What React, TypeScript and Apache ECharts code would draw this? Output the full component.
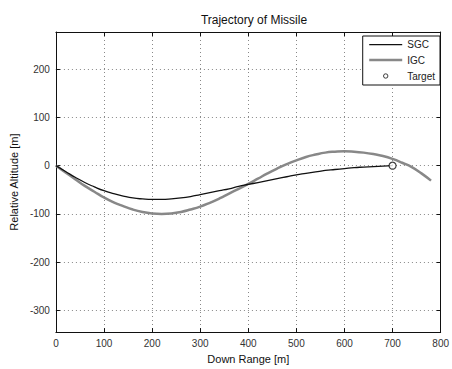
import React, { useEffect, useRef } from "react";
import * as echarts from "echarts";

const downRangeSGC = [0, 20, 40, 60, 80, 100, 120, 140, 160, 180, 200, 220, 240, 260, 280, 300, 320, 340, 360, 380, 400, 420, 440, 460, 480, 500, 520, 540, 560, 580, 600, 620, 640, 660, 680, 700];
const altitudeSGC = [0, -12, -24, -35, -44, -52, -58, -63, -67, -69, -70, -70, -69, -67, -64, -60, -56, -52, -48, -43, -39, -35, -31, -27, -23, -19, -16, -13, -10, -8, -6, -4, -3, -2, -1, 0];

const downRangeIGC = [0, 20, 40, 60, 80, 100, 120, 140, 160, 180, 200, 220, 240, 260, 280, 300, 320, 340, 360, 380, 400, 420, 440, 460, 480, 500, 520, 540, 560, 580, 600, 620, 640, 660, 680, 700, 720, 740, 760, 780];
const altitudeIGC = [0, -14, -28, -42, -54, -66, -76, -84, -91, -96, -99, -100, -99, -96, -91, -85, -77, -68, -58, -48, -38, -27, -16, -6, 3, 11, 18, 23, 27, 29, 30, 29, 27, 24, 20, 14, 6, -3, -16, -31];

const target = [700, 0];

const FONT = "Liberation Sans";

export default function App() {
  const ref = useRef<HTMLDivElement>(null);
  useEffect(() => {
    if (!ref.current) return;
    const chart = echarts.init(ref.current, null, { renderer: "svg" });
    const gridLine = { show: true, lineStyle: { color: "#888", type: [1, 3] as any, width: 1 } };
    chart.setOption({
      animation: false,
      backgroundColor: "#fff",
      textStyle: { fontFamily: FONT },
      title: {
        text: "Trajectory of Missile",
        left: 249,
        textAlign: "center",
        top: 9,
        textStyle: { fontFamily: FONT, fontSize: 12, fontWeight: "normal", color: "#111" },
      },
      grid: { left: 54, right: 9, top: 32, bottom: 36, show: false },
      legend: {
        orient: "vertical",
        right: 12,
        top: 36,
        backgroundColor: "#fff",
        borderColor: "#111",
        borderWidth: 1,
        borderRadius: 0,
        padding: [3, 5, 3, 6],
        itemGap: 4.5,
        itemWidth: 33,
        itemHeight: 11,
        textStyle: { fontFamily: FONT, fontSize: 10, color: "#222", width: 35 },
        data: [
          { name: "SGC", icon: "path://M0,0 M33,11 M0,5 L33,5 L33,6.2 L0,6.2 Z", itemStyle: { color: "#111", borderWidth: 0 } },
          { name: "IGC", icon: "path://M0,0 M33,11 M0,4.3 L33,4.3 L33,6.7 L0,6.7 Z", itemStyle: { color: "#888", borderWidth: 0 } },
          {
            name: "Target",
            icon: "path://M0,0 M33,11 M14.3,5.5 A2.2,2.2 0 1 1 18.7,5.5 A2.2,2.2 0 1 1 14.3,5.5 Z",
            itemStyle: { color: "transparent", borderColor: "#111", borderWidth: 1 },
          },
        ],
        selectedMode: false,
      },
      xAxis: [
        {
          type: "value",
          min: 0,
          max: 800,
          interval: 100,
          name: "Down Range [m]",
          nameLocation: "middle",
          nameGap: 17,
          nameTextStyle: { fontFamily: FONT, fontSize: 11, color: "#111" },
          axisLine: { show: true, onZero: false, lineStyle: { color: "#111", width: 1 } },
          axisTick: { show: true, inside: true, length: 4, lineStyle: { color: "#111" } },
          axisLabel: { fontFamily: FONT, fontSize: 10, color: "#333", margin: 6 },
          splitLine: gridLine,
        },
        {
          type: "value",
          position: "top",
          min: 0,
          max: 800,
          interval: 100,
          axisLine: { show: true, onZero: false, lineStyle: { color: "#111", width: 1 } },
          axisTick: { show: true, inside: true, length: 4, lineStyle: { color: "#111" } },
          axisLabel: { show: false },
          splitLine: { show: false },
        },
      ],
      yAxis: [
        {
          type: "value",
          min: -345,
          max: 277,
          splitNumber: 6,
          name: "Relative Altitude [m]",
          nameLocation: "middle",
          nameGap: 36,
          nameTextStyle: { fontFamily: FONT, fontSize: 11, color: "#111" },
          axisLine: { show: true, onZero: false, lineStyle: { color: "#111", width: 1 } },
          axisTick: { show: true, inside: true, length: 4, lineStyle: { color: "#111" } },
          axisLabel: { fontFamily: FONT, fontSize: 10, color: "#333", margin: 6, showMinLabel: false, showMaxLabel: false },
          splitLine: gridLine,
        },
        {
          type: "value",
          position: "right",
          min: -345,
          max: 277,
          splitNumber: 6,
          axisLine: { show: true, onZero: false, lineStyle: { color: "#111", width: 1 } },
          axisTick: { show: true, inside: true, length: 4, lineStyle: { color: "#111" } },
          axisLabel: { show: false },
          splitLine: { show: false },
        },
      ],
      series: [
        {
          name: "SGC",
          type: "line",
          data: downRangeSGC.map((x, i) => [x, altitudeSGC[i]]),
          smooth: true,
          showSymbol: false,
          symbol: "none",
          clip: false,
          lineStyle: { color: "#111", width: 1.3 },
          itemStyle: { color: "#111" },
          z: 3,
        },
        {
          name: "IGC",
          type: "line",
          data: downRangeIGC.map((x, i) => [x, altitudeIGC[i]]),
          smooth: true,
          showSymbol: false,
          symbol: "none",
          clip: false,
          lineStyle: { color: "#888", width: 2.5 },
          itemStyle: { color: "#888" },
          z: 2,
        },
        {
          name: "Target",
          type: "scatter",
          data: [target],
          symbol: "circle",
          symbolSize: 7,
          itemStyle: { color: "#fff", borderColor: "#111", borderWidth: 1.2 },
          z: 4,
        },
      ],
    });
    return () => chart.dispose();
  }, []);
  return <div ref={ref} style={{ width: 452, height: 369, position: "absolute", left: 0, top: 0 }} />;
}
